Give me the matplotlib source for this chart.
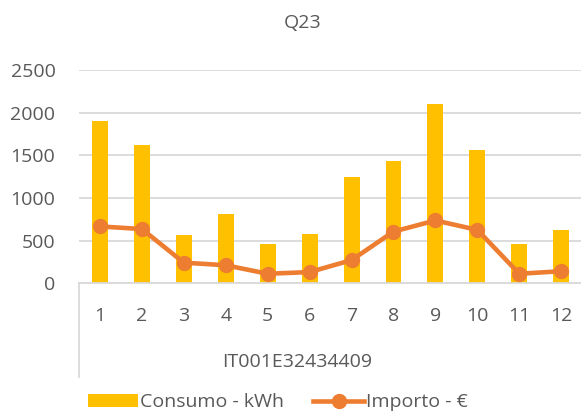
import matplotlib.pyplot as plt
import numpy as np

# values
categories = ["1", "2", "3", "4", "5", "6", "7", "8", "9", "10", "11", "12"]
consumo_kwh = [1900, 1625, 570, 810, 455, 580, 1245, 1430, 2100, 1560, 455, 625]
importo_eur = [665, 635, 240, 210, 110, 130, 270, 605, 735, 625, 110, 140]
y_ticks = [0, 500, 1000, 1500, 2000, 2500]
group_label = "IT001E32434409"

BAR_COLOR = "#FFC000"
LINE_COLOR = "#ED7D31"
TEXT_COLOR = "#595959"
GRID_COLOR = "#D9D9D9"

plt.rcParams["font.family"] = ["Open Sans", "DejaVu Sans"]

fig = plt.figure(figsize=(5.81, 4.17), dpi=100)
ax = fig.add_axes([0.136, 0.321, 0.866, 0.511])

x = np.arange(len(categories))
bars = ax.bar(x, consumo_kwh, width=0.38, color=BAR_COLOR, label="Consumo - kWh", zorder=2)
line, = ax.plot(x, importo_eur, color=LINE_COLOR, linewidth=3.3, marker="o", markersize=10,
                label="Importo - €", zorder=3)

ax.set_xlim(-0.5, len(categories) - 0.5)
ax.set_ylim(0, 2500)
ax.set_yticks(y_ticks)
ax.set_xticks(x)
ax.set_xticklabels(categories)
ax.tick_params(axis="both", length=0, labelsize=14, colors=TEXT_COLOR)
ax.tick_params(axis="y", pad=17)
ax.tick_params(axis="x", pad=17)
ax.grid(axis="y", color=GRID_COLOR, linewidth=1.3, zorder=0)
for side in ["top", "right", "left"]:
    ax.spines[side].set_visible(False)
ax.spines["bottom"].set_color(GRID_COLOR)
ax.spines["bottom"].set_linewidth(1.3)

# multi-level category axis: left divider and group label
ax.plot([0, 0], [0, -0.44], transform=ax.transAxes, color=GRID_COLOR,
        linewidth=1.3, clip_on=False)
ax.text(0.433, -0.37, group_label, transform=ax.transAxes, ha="center",
        va="center", fontsize=14, color=TEXT_COLOR)

ax.set_title("Q23", fontsize=14, color=TEXT_COLOR, pad=30, x=0.445)

fig.legend([bars, line], ["Consumo - kWh", "Importo - €"], loc="center",
           bbox_to_anchor=(0.478, 0.035), ncol=2, frameon=False,
           fontsize=14, labelcolor=TEXT_COLOR, handlelength=2.6, handletextpad=0.1,
           columnspacing=1.5)

plt.savefig("out.png", dpi=100)
plt.close()
